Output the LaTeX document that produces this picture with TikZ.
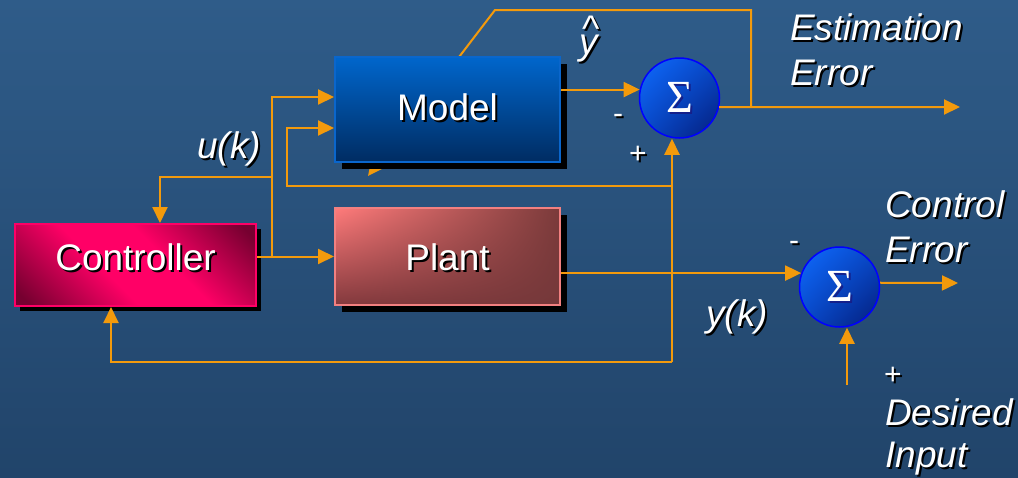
\documentclass[tikz,border=0pt]{standalone}
\usepackage{fontspec}
\setmainfont{Liberation Sans}
\newfontfamily\sigfont{Liberation Serif}
\usetikzlibrary{arrows.meta,shadows,shadings,calc}
\definecolor{bgtop}{HTML}{2F5C89}
\definecolor{bgbot}{HTML}{21446A}
\definecolor{wire}{HTML}{F39A0C}
\definecolor{sigshadow}{HTML}{15208A}
\definecolor{sigA}{HTML}{0F6CFF}
\definecolor{sigB}{HTML}{0848C8}
\definecolor{sigC}{HTML}{041C78}
\definecolor{modelborder}{HTML}{0A66CC}
\definecolor{modeltop}{HTML}{0066CC}
\definecolor{modelbot}{HTML}{002C62}
\definecolor{plantborder}{HTML}{F28080}
\definecolor{plantA}{HTML}{FF7B7B}
\definecolor{plantB}{HTML}{7A3A3A}
\definecolor{plantC}{HTML}{83393D}
\definecolor{plantD}{HTML}{75383A}
\definecolor{ctrlborder}{HTML}{FF0066}
\definecolor{ctrldark}{HTML}{760030}
\definecolor{ctrlpink}{HTML}{FF0066}
\newcommand\dropsh[2][black]{\leavevmode\rlap{\kern2pt\raisebox{-2pt}{\color{#1}#2}}#2}
\tikzset{
  wirestyle/.style={draw=wire, line width=2pt},
  arr/.style={wirestyle, -{Triangle[length=16pt,width=15pt]}},
  blockbox/.style={rectangle, line width=2pt, text=white, font=\fontsize{37}{40}\selectfont,
     text height=27pt, inner sep=0pt},
  sumnode/.style={circle, minimum size=80pt, inner sep=0pt, draw=blue, line width=1.5pt,
     upper left=sigA, upper right=sigB, lower left=sigB, lower right=sigC,
     text=white, font=\sigfont\fontsize{46}{46}\selectfont},
  lbl/.style={text=white, font=\fontsize{37}{40}\selectfont\itshape, inner sep=0pt, anchor=base west},
  sgn/.style={text=white, font=\fontsize{30}{34}\selectfont, inner sep=0pt, anchor=base},
}
\pgfdeclarehorizontalshading{ctrlshade}{100bp}{color(0bp)=(ctrldark); color(18bp)=(ctrldark); color(42bp)=(ctrlpink); color(58bp)=(ctrlpink); color(82bp)=(ctrldark); color(100bp)=(ctrldark)}
\begin{document}
\begin{tikzpicture}[x=1pt,y=-1pt]
\shade[top color=bgtop,bottom color=bgbot] (0,0) rectangle (1018,477);
\useasboundingbox (0,0) rectangle (1018,477);

% helper coordinates
\coordinate (j1) at (272,257);
\coordinate (j2) at (272,177);
\coordinate (uy) at (0,97);
\coordinate (cin) at (160,0);
\coordinate (m2y) at (0,128);
\coordinate (m2c) at (287,186);
\coordinate (fbx) at (672,186);
\coordinate (fbb) at (672,362);
\coordinate (fbl) at (111,0);
\coordinate (eej) at (751,107);
\coordinate (eetop) at (751,10);
\coordinate (diagA) at (495,10);
\coordinate (diagB) at (368,176);
\coordinate (eeend) at (960,107);
\coordinate (ceend) at (958,283);
\coordinate (din) at (847,385);

% learning arrow drawn behind the model
\draw[arr] (eej) -- (eetop) -- (diagA) -- (diagB);

% blocks
\node[blockbox, minimum width=225pt, minimum height=105pt, draw=modelborder,
  top color=modeltop, bottom color=modelbot,
  drop shadow={shadow xshift=7pt, shadow yshift=-7pt, fill=black, opacity=1},
  text depth=6pt] (model) at (447.5,109.5) {\dropsh{Model}};
\node[blockbox, minimum width=225pt, minimum height=97pt, draw=plantborder,
  upper left=plantA, upper right=plantB, lower left=plantC, lower right=plantD,
  drop shadow={shadow xshift=7pt, shadow yshift=-7pt, fill=black, opacity=1},
  text depth=0pt] (plant) at (447.5,256.5) {\dropsh{Plant}};
\node[blockbox, minimum width=241pt, minimum height=82pt, draw=ctrlborder,
  shading=ctrlshade, shading angle=45,
  drop shadow={shadow xshift=5pt, shadow yshift=-5pt, fill=black, opacity=1},
  text depth=17pt] (ctrl) at (135.5,265) {\dropsh{Controller}};

% summing junctions
\node[sumnode] (s1) at (679.5,98) {\dropsh[sigshadow]{Σ}};
\node[sumnode] (s2) at (839.5,287) {\dropsh[sigshadow]{Σ}};

% connectors
\draw[arr] (ctrl.east |- plant.west) -- (plant.west);
\draw[arr] (j1) |- (model.west |- uy);
\draw[arr] (j2) -| (ctrl.north -| cin);
\draw[arr] (fbx) -- (m2c) |- (model.west |- m2y);
\draw[arr] (fbb) -- (s1.south -| fbb);
\draw[arr] (fbb) -| (ctrl.south -| fbl);
\draw[arr] (model.east |- s1.168) -- (s1.168);
\draw[arr] (s1.-13) -- (eeend);
\draw[arr] (plant.east |- s2.160) -- (s2.160);
\draw[arr] (s2.6) -- (ceend);
\draw[arr] (din) -- (s2.south -| din);

% labels
\node[lbl] (ulab) at (197,158) {\dropsh{u(k)}};
\node[lbl] (ylab) at (706,326) {\dropsh{y(k)}};
\node[lbl, align=left, anchor=north west] (eelab) at (790,13) {\dropsh{Estimation}\\[5pt]\dropsh{Error}};
\node[lbl, align=left, anchor=north west] (celab) at (885,190) {\dropsh{Control}\\[5pt]\dropsh{Error}};
\node[lbl, align=left, anchor=north west] (dilab) at (885,398) {\dropsh{Desired}\\[2pt]\dropsh{Input}};
\node[lbl] (yhlab) at (579,54) {\dropsh{\rlap{\kern3pt\raisebox{13pt}{\upshape\textasciicircum}}y}};
\node[sgn] (m1lab) at (618,123) {\dropsh{-}};
\node[sgn] (p1lab) at (638,163) {\dropsh{+}};
\node[sgn] (m2lab) at (794,250) {\dropsh{-}};
\node[sgn] (p2lab) at (893,384) {\dropsh{+}};
\end{tikzpicture}
\end{document}
